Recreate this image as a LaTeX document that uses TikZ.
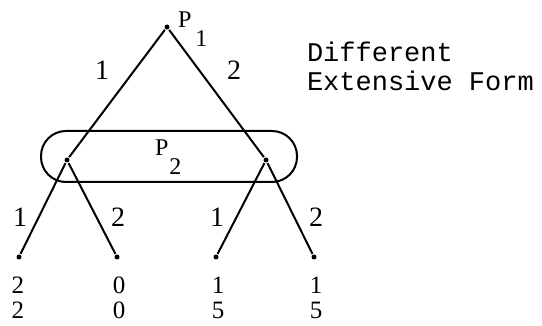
\documentclass[tikz,border=0pt]{standalone}
\usepackage{fontspec}
\setmainfont{Liberation Serif}
\setmonofont{Liberation Mono}
\begin{document}
\begin{tikzpicture}[x=1pt,y=-1pt,line width=2pt,
  gnode/.style={circle,fill,inner sep=0pt,minimum size=5pt},
  lbl/.style={inner sep=0pt,font=\fontsize{28}{30}\selectfont},
  pay/.style={inner sep=0pt,font=\fontsize{25}{27}\selectfont}]
\useasboundingbox (0,0) rectangle (542,326);
% game nodes
\node[gnode] (p1) at (167,27) {};
\node[gnode] (p2l) at (67,160) {};
\node[gnode] (p2r) at (266,160) {};
\node[gnode] (t1) at (19,257) {};
\node[gnode] (t2) at (117,257) {};
\node[gnode] (t3) at (216,257) {};
\node[gnode] (t4) at (314,257) {};
\draw (p1) -- (p2l);
\draw (p1) -- (p2r);
\draw (p2l) -- (t1);
\draw (p2l) -- (t2);
\draw (p2r) -- (t3);
\draw (p2r) -- (t4);
% information set
\node[draw,rounded corners=25pt,minimum width=256pt,minimum height=51pt,inner sep=0pt] (infoset) at (169,156.5) {};
% player labels
\node[anchor=base west,inner sep=0pt,font=\fontsize{24}{26}\selectfont] (lp1) at (177,28) {P\hspace{4pt}\raisebox{-19pt}{1}};
\node[anchor=base west,inner sep=0pt,font=\fontsize{24}{26}\selectfont] (lp2) at (154,156) {P\hspace{1pt}\raisebox{-19pt}{2}};
% move labels
\node[lbl] (m1) at (102,70) {1};
\node[lbl] (m2) at (234,70) {2};
\node[lbl] (m3) at (20,217) {1};
\node[lbl] (m4) at (118,217) {2};
\node[lbl] (m5) at (217,217) {1};
\node[lbl] (m6) at (316,217) {2};
% payoffs
\node[pay] (u1a) at (18,285) {2};
\node[pay] (u1b) at (18,310) {2};
\node[pay] (u2a) at (119,285) {0};
\node[pay] (u2b) at (119,310) {0};
\node[pay] (u3a) at (218,285) {1};
\node[pay] (u3b) at (218,310) {5};
\node[pay] (u4a) at (316,285) {1};
\node[pay] (u4b) at (316,310) {5};
% caption
\node[anchor=base west,inner sep=0pt,font=\ttfamily\fontsize{27}{28}\selectfont] (cap1) at (306,62) {Different};
\node[anchor=base west,inner sep=0pt,font=\ttfamily\fontsize{27}{28}\selectfont] (cap2) at (306,91) {Extensive Form};
\end{tikzpicture}
\end{document}
